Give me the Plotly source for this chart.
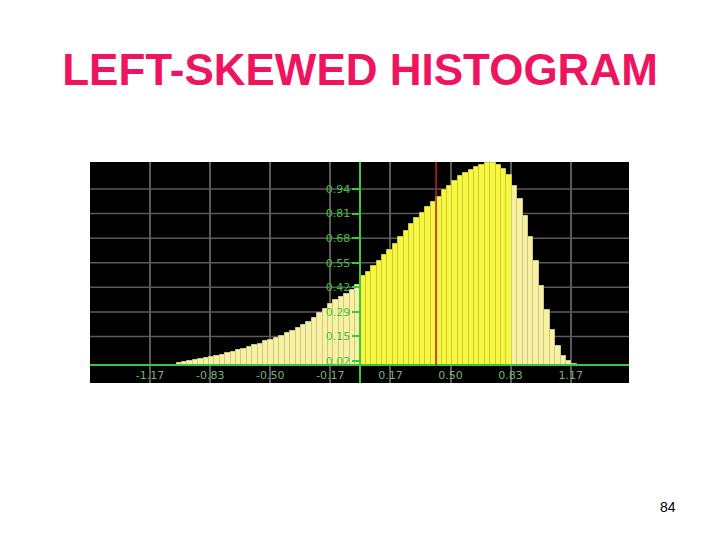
import plotly.graph_objects as go

TITLE = "LEFT-SKEWED HISTOGRAM"
PAGE_NUMBER = "84"

BIN_WIDTH = 0.03
BIN_CENTERS = [
    -1.005, -0.975, -0.945, -0.915, -0.885, -0.855, -0.825, -0.795, -0.765, -0.735,
    -0.705, -0.675, -0.645, -0.615, -0.585, -0.555, -0.525, -0.495, -0.465, -0.435,
    -0.405, -0.375, -0.345, -0.315, -0.285, -0.255, -0.225, -0.195, -0.165, -0.135,
    -0.105, -0.075, -0.045, -0.015,
    0.015, 0.045, 0.075, 0.105, 0.135, 0.165, 0.195, 0.225, 0.255, 0.285,
    0.315, 0.345, 0.375, 0.405, 0.435, 0.465, 0.495, 0.525, 0.555, 0.585,
    0.615, 0.645, 0.675, 0.705, 0.735, 0.765, 0.795, 0.825, 0.855, 0.885,
    0.915, 0.945, 0.975, 1.005, 1.035, 1.065, 1.095, 1.125, 1.155, 1.185,
]
DENSITY = [
    0.012, 0.016, 0.021, 0.026, 0.031, 0.037, 0.043, 0.050, 0.057, 0.064,
    0.072, 0.080, 0.089, 0.098, 0.107, 0.116, 0.127, 0.136, 0.146, 0.158,
    0.170, 0.183, 0.198, 0.214, 0.232, 0.254, 0.277, 0.300, 0.326, 0.347,
    0.365, 0.383, 0.405, 0.430,
    0.475, 0.500, 0.530, 0.560, 0.590, 0.615, 0.650, 0.685, 0.720, 0.755,
    0.785, 0.815, 0.845, 0.872, 0.900, 0.935, 0.960, 0.985, 1.010, 1.030,
    1.046, 1.060, 1.072, 1.082, 1.082, 1.070, 1.050, 1.015, 0.960, 0.890,
    0.800, 0.685, 0.556, 0.426, 0.296, 0.186, 0.105, 0.047, 0.021, 0.008,
]
HIGHLIGHT_FROM = 0.0
HIGHLIGHT_TO = 0.84
MEAN = 0.42

X_TICK_VALS = [-7/6, -5/6, -1/2, -1/6, 1/6, 1/2, 5/6, 7/6]
X_TICK_TEXT = ["-1.17", "-0.83", "-0.50", "-0.17", "0.17", "0.50", "0.83", "1.17"]
Y_TICK_VALS = [0.0225, 0.1539, 0.2853, 0.4167, 0.5481, 0.6795, 0.8109, 0.9423]
Y_TICK_TEXT = ["0.02", "0.15", "0.29", "0.42", "0.55", "0.68", "0.81", "0.94"]

X_RANGE = [-1.5, 1.49]
Y_RANGE = [-0.095, 1.087]

BRIGHT_FILL, BRIGHT_EDGE = "#F8F840", "#CACA3C"
PALE_FILL, PALE_EDGE = "#F8F2A0", "#CCC690"
GREEN = "#3CC83C"
GRID = "#5A5A5A"

fills, edges = [], []
for c in BIN_CENTERS:
    if HIGHLIGHT_FROM < c < HIGHLIGHT_TO:
        fills.append(BRIGHT_FILL); edges.append(BRIGHT_EDGE)
    else:
        fills.append(PALE_FILL); edges.append(PALE_EDGE)

fig = go.Figure()
fig.add_trace(go.Bar(
    x=BIN_CENTERS, y=DENSITY, width=BIN_WIDTH,
    marker=dict(color=fills, line=dict(color=edges, width=1)),
    hoverinfo="x+y", showlegend=False,
))

# horizontal grid lines (the lowest tick sits on the axis, no grid line there)
for v in Y_TICK_VALS[1:]:
    fig.add_shape(type="line", xref="paper", yref="y", x0=0, x1=1, y0=v, y1=v,
                  line=dict(color=GRID, width=1.5), layer="below")

fig.add_shape(type="line", xref="x", yref="y", x0=MEAN, x1=MEAN,
              y0=0, y1=Y_RANGE[1], line=dict(color="#C81E1E", width=1.5),
              layer="above")

x_axis_pos = (0 - Y_RANGE[0]) / (Y_RANGE[1] - Y_RANGE[0])
y_axis_pos = (0 - X_RANGE[0]) / (X_RANGE[1] - X_RANGE[0])

fig.update_layout(
    width=720, height=540,
    margin=dict(l=82, r=99, t=154, b=165),
    paper_bgcolor="white", plot_bgcolor="black",
    bargap=0,
    title=dict(text=TITLE, x=(360 - 8) / 720, xanchor="center", y=1 - 62 / 540,
               yanchor="middle", xref="container", yref="container",
               font=dict(family="Liberation Sans, Arial, sans-serif", size=44,
                         color="#EE1460", weight="bold")),
    xaxis=dict(range=X_RANGE, tickvals=X_TICK_VALS, ticktext=X_TICK_TEXT,
               showgrid=True, gridcolor=GRID, gridwidth=1.5,
               zeroline=False, showline=True, linecolor=GREEN, linewidth=2,
               anchor="free", position=x_axis_pos, ticks="",
               tickfont=dict(family="DejaVu Sans", size=11, color="#78B078")),
    yaxis=dict(range=Y_RANGE, tickvals=Y_TICK_VALS, ticktext=Y_TICK_TEXT,
               showgrid=False,
               zeroline=False, showline=True, linecolor=GREEN, linewidth=2,
               anchor="free", position=y_axis_pos, ticks="outside",
               ticklen=7, tickcolor=GREEN, tickwidth=1.5,
               tickfont=dict(family="DejaVu Sans", size=11, color="#40C040")),
    annotations=[dict(text=PAGE_NUMBER, xref="paper", yref="paper",
                      x=(668 - 90) / 539, y=(383 - 507) / 221,
                      xanchor="center", yanchor="middle", showarrow=False,
                      font=dict(family="Liberation Sans, Arial", size=14,
                                color="black"))],
)

fig.write_html("out.html")
